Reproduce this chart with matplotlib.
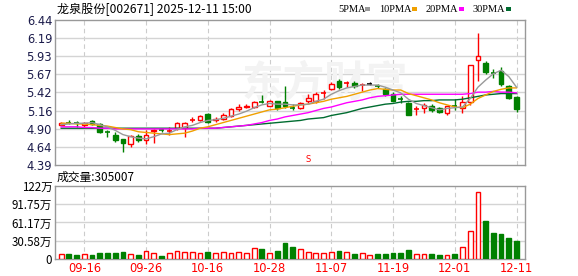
import matplotlib
matplotlib.use('Agg')
import matplotlib.pyplot as plt

plt.rcParams['font.family'] = ['Noto Sans CJK SC', 'DejaVu Sans']

dates = ['09-11', '09-12', '09-15', '09-16', '09-17', '09-18', '09-19', '09-22', '09-23', '09-24',
         '09-25', '09-26', '09-29', '09-30', '10-09', '10-10', '10-13', '10-14', '10-15', '10-16',
         '10-17', '10-20', '10-21', '10-22', '10-23', '10-24', '10-27', '10-28', '10-29', '10-30',
         '10-31', '11-03', '11-04', '11-05', '11-06', '11-07', '11-10', '11-11', '11-12', '11-13',
         '11-14', '11-17', '11-18', '11-19', '11-20', '11-21', '11-24', '11-25', '11-26', '11-27',
         '11-28', '12-01', '12-02', '12-03', '12-04', '12-05', '12-08', '12-09', '12-10', '12-11']
label_dates = ['09-16', '09-26', '10-16', '10-28', '11-07', '11-19', '12-01', '12-11']

opens = [4.96, 5.00, 5.00, 4.96, 5.01, 4.97, 4.86, 4.82, 4.76, 4.69,
         4.80, 4.74, 4.87, 4.90, 4.86, 4.91, 4.91, 5.01, 5.02, 5.11,
         5.02, 5.04, 5.08, 5.18, 5.21, 5.21, 5.29, 5.23, 5.29, 5.28,
         5.21, 5.19, 5.29, 5.29, 5.40, 5.47, 5.58, 5.54, 5.55, 5.51,
         5.54, 5.51, 5.47, 5.40, 5.33, 5.27, 5.17, 5.19, 5.22, 5.20,
         5.13, 5.23, 5.20, 5.28, 5.87, 5.83, 5.70, 5.72, 5.50, 5.35]
highs = [5.00, 5.02, 5.01, 5.00, 5.02, 4.98, 4.88, 4.85, 4.76, 4.81,
         4.83, 4.89, 4.90, 4.92, 4.93, 5.00, 5.00, 5.07, 5.09, 5.12,
         5.07, 5.12, 5.19, 5.25, 5.25, 5.29, 5.38, 5.31, 5.30, 5.51,
         5.25, 5.28, 5.39, 5.42, 5.45, 5.56, 5.60, 5.58, 5.58, 5.55,
         5.56, 5.53, 5.48, 5.42, 5.36, 5.28, 5.22, 5.26, 5.25, 5.21,
         5.23, 5.32, 5.37, 5.81, 6.26, 5.86, 5.75, 5.78, 5.52, 5.36]
lows = [4.95, 4.97, 4.93, 4.92, 4.95, 4.84, 4.78, 4.72, 4.57, 4.64,
        4.71, 4.68, 4.70, 4.86, 4.82, 4.89, 4.79, 5.00, 5.01, 4.98,
        5.00, 5.03, 5.07, 5.15, 5.19, 5.20, 5.26, 5.22, 5.17, 5.19,
        5.17, 5.18, 5.27, 5.27, 5.33, 5.45, 5.47, 5.49, 5.48, 5.44,
        5.52, 5.48, 5.37, 5.29, 5.27, 5.09, 5.10, 5.13, 5.14, 5.13,
        5.10, 5.17, 5.13, 5.24, 5.58, 5.68, 5.62, 5.51, 5.32, 5.14]
closes = [4.99, 4.99, 4.99, 4.99, 4.97, 4.85, 4.85, 4.75, 4.70, 4.80,
          4.74, 4.82, 4.89, 4.89, 4.87, 4.99, 4.99, 5.02, 5.08, 5.00,
          5.04, 5.10, 5.18, 5.21, 5.23, 5.28, 5.28, 5.29, 5.19, 5.23,
          5.20, 5.27, 5.34, 5.40, 5.41, 5.54, 5.49, 5.55, 5.50, 5.52,
          5.54, 5.50, 5.39, 5.30, 5.32, 5.10, 5.18, 5.24, 5.17, 5.14,
          5.22, 5.22, 5.28, 5.81, 5.93, 5.70, 5.69, 5.53, 5.34, 5.18]
# volume in 万股
volumes = [8.9, 8.9, 6.0, 8.9, 6.0, 10.7, 10.7, 10.7, 12.5, 8.9,
           6.0, 13.7, 10.1, 4.2, 10.1, 13.7, 12.5, 12.5, 10.7, 12.5,
           10.7, 12.5, 10.7, 11.9, 10.7, 17.9, 16.7, 10.7, 13.1, 26.8,
           19.6, 16.1, 11.9, 10.7, 9.5, 11.3, 13.7, 11.3, 8.9, 10.1,
           7.1, 8.9, 7.7, 9.5, 10.7, 14.9, 8.9, 7.7, 7.7, 6.5,
           7.1, 7.7, 19.6, 46.4, 111.9, 64.3, 43.4, 41.7, 34.5, 30.5]

ma5 = [4.96, 4.97, 4.98, 4.98, 4.99, 4.96, 4.93, 4.88, 4.82, 4.79,
       4.77, 4.76, 4.79, 4.83, 4.84, 4.89, 4.93, 4.95, 4.99, 5.02,
       5.03, 5.05, 5.08, 5.11, 5.15, 5.20, 5.24, 5.26, 5.25, 5.25,
       5.24, 5.24, 5.25, 5.29, 5.32, 5.39, 5.44, 5.48, 5.50, 5.52,
       5.52, 5.52, 5.49, 5.45, 5.41, 5.32, 5.26, 5.23, 5.20, 5.17,
       5.19, 5.20, 5.21, 5.33, 5.49, 5.59, 5.68, 5.73, 5.64, 5.49]
ma10 = [4.98, 4.98, 4.97, 4.97, 4.96, 4.95, 4.94, 4.92, 4.90, 4.89,
        4.86, 4.85, 4.84, 4.83, 4.82, 4.83, 4.84, 4.87, 4.91, 4.93,
        4.96, 4.99, 5.02, 5.05, 5.08, 5.11, 5.14, 5.17, 5.18, 5.20,
        5.22, 5.24, 5.25, 5.27, 5.29, 5.32, 5.34, 5.36, 5.39, 5.42,
        5.45, 5.47, 5.46, 5.45, 5.45, 5.40, 5.37, 5.34, 5.31, 5.27,
        5.24, 5.21, 5.20, 5.25, 5.33, 5.38, 5.43, 5.46, 5.48, 5.48]
ma20 = [4.93, 4.93, 4.93, 4.92, 4.92, 4.91, 4.91, 4.90, 4.90, 4.90,
        4.90, 4.90, 4.90, 4.90, 4.90, 4.90, 4.90, 4.90, 4.91, 4.91,
        4.91, 4.92, 4.93, 4.94, 4.95, 4.97, 4.99, 5.02, 5.04, 5.07,
        5.09, 5.11, 5.13, 5.16, 5.19, 5.21, 5.24, 5.27, 5.29, 5.31,
        5.34, 5.36, 5.37, 5.38, 5.39, 5.39, 5.39, 5.39, 5.39, 5.39,
        5.39, 5.39, 5.39, 5.40, 5.42, 5.42, 5.43, 5.42, 5.42, 5.41]
ma30 = [4.91, 4.91, 4.91, 4.91, 4.91, 4.91, 4.91, 4.91, 4.91, 4.91,
        4.91, 4.91, 4.91, 4.91, 4.91, 4.91, 4.91, 4.91, 4.91, 4.91,
        4.91, 4.92, 4.93, 4.94, 4.95, 4.96, 4.97, 4.98, 4.99, 5.00,
        5.01, 5.02, 5.04, 5.05, 5.06, 5.09, 5.11, 5.13, 5.16, 5.19,
        5.21, 5.23, 5.25, 5.26, 5.28, 5.29, 5.29, 5.30, 5.30, 5.31,
        5.31, 5.31, 5.32, 5.34, 5.36, 5.38, 5.39, 5.40, 5.40, 5.40]

price_ticks = [4.39, 4.64, 4.90, 5.16, 5.42, 5.67, 5.93, 6.19, 6.44]
vol_ticks = [0, 30.58, 61.17, 91.75, 122.33]
vol_labels = ['0', '30.58万', '61.17万', '91.75万', '122万']

RED = '#ff0000'
GREEN = '#008000'
ma_colors = ['#999999', '#f0a000', '#ff00ff', '#006c30']

W, H = 578, 276
fig = plt.figure(figsize=(W / 100, H / 100), dpi=100)
ax = fig.add_axes([55 / W, 1 - 165 / H, 470 / W, 145 / H])
axv = fig.add_axes([55 / W, 1 - 259 / H, 470 / W, 73 / H])

x = list(range(len(dates)))
tick_x = [dates.index(d) for d in label_dates]
bw = 0.62

for a in (ax, axv):
    a.set_xlim(-0.8, 60.1)
    for s in a.spines.values():
        s.set_color('#999999')
        s.set_linewidth(1)
    a.tick_params(length=0, labelsize=8.3, pad=2)
    for tx in tick_x:
        a.axvline(tx, color='#cccccc', lw=0.8, ls=(0, (4, 3)), zorder=0)

# price panel
ax.set_ylim(4.39, 6.44)
ax.set_yticks(price_ticks)
ax.set_yticklabels(['%.2f' % v for v in price_ticks], color='#1a1a4a', family='DejaVu Sans')
for v in price_ticks[1:-1]:
    ax.axhline(v, color='#d4d4d4', lw=1, zorder=0)
ax.set_xticks([])

ax.text(0.575, 0.56, '东方财富', transform=ax.transAxes, fontsize=30, color='#f3f3f3',
        ha='center', va='center', fontweight='bold', zorder=0)

for i in x:
    o, h, l, c = opens[i], highs[i], lows[i], closes[i]
    if c > o:
        col = RED
    elif c < o:
        col = GREEN
    else:
        col = 'black'
    ax.vlines(i, l, h, color=col, lw=1, zorder=2)
    if abs(c - o) < 0.012:
        ax.hlines(c, i - bw / 2, i + bw / 2, color=col, lw=1.2, zorder=3)
    elif c > o:
        ax.bar(i, c - o, bottom=o, width=bw, facecolor='white', edgecolor=col, lw=1, zorder=3)
    else:
        ax.bar(i, o - c, bottom=c, width=bw, facecolor=col, edgecolor=col, lw=1, zorder=3)

for ma, col in zip([ma30, ma20, ma10, ma5], ma_colors[::-1]):
    ax.plot(x, ma, color=col, lw=1, zorder=4)

ax.text(32, 4.47, 'S', color=RED, fontsize=6, ha='center', va='center', family='DejaVu Sans')

# volume panel
axv.set_ylim(0, 122.33)
axv.set_yticks(vol_ticks)
axv.set_yticklabels(vol_labels, color='black')
for v in vol_ticks[1:-1]:
    axv.axhline(v, color='#d4d4d4', lw=1, zorder=0)
axv.set_xticks(tick_x)
axv.set_xticklabels(label_dates, color=RED, family='DejaVu Sans')
for i in x:
    o, c = opens[i], closes[i]
    if c >= o:
        axv.bar(i, volumes[i], width=bw, facecolor='white', edgecolor=RED, lw=1, zorder=3)
    else:
        axv.bar(i, volumes[i], width=bw, facecolor=GREEN, edgecolor=GREEN, lw=1, zorder=3)

# texts
fig.text(57 / W, 1 - 9 / H, '龙泉股份[002671] 2025-12-11 15:00', fontsize=8.7, va='center', ha='left')
fig.text(57 / W, 1 - 177 / H, '成交量:305007', fontsize=8.5, va='center', ha='left')

lx = 338
for name, col in zip(['5PMA', '10PMA', '20PMA', '30PMA'], ma_colors):
    t = fig.text(lx / W, 1 - 9 / H, name, fontsize=7.5, va='center', ha='left', family='Liberation Serif')
    wpx = 6.2 * len(name)
    fig.patches.append(plt.Rectangle(((lx + wpx + 2) / W, 1 - 10.5 / H), 5 / W, 3 / H,
                                     transform=fig.transFigure, facecolor=col, edgecolor='none'))
    lx += wpx + 16

fig.savefig('out.png', dpi=100)
